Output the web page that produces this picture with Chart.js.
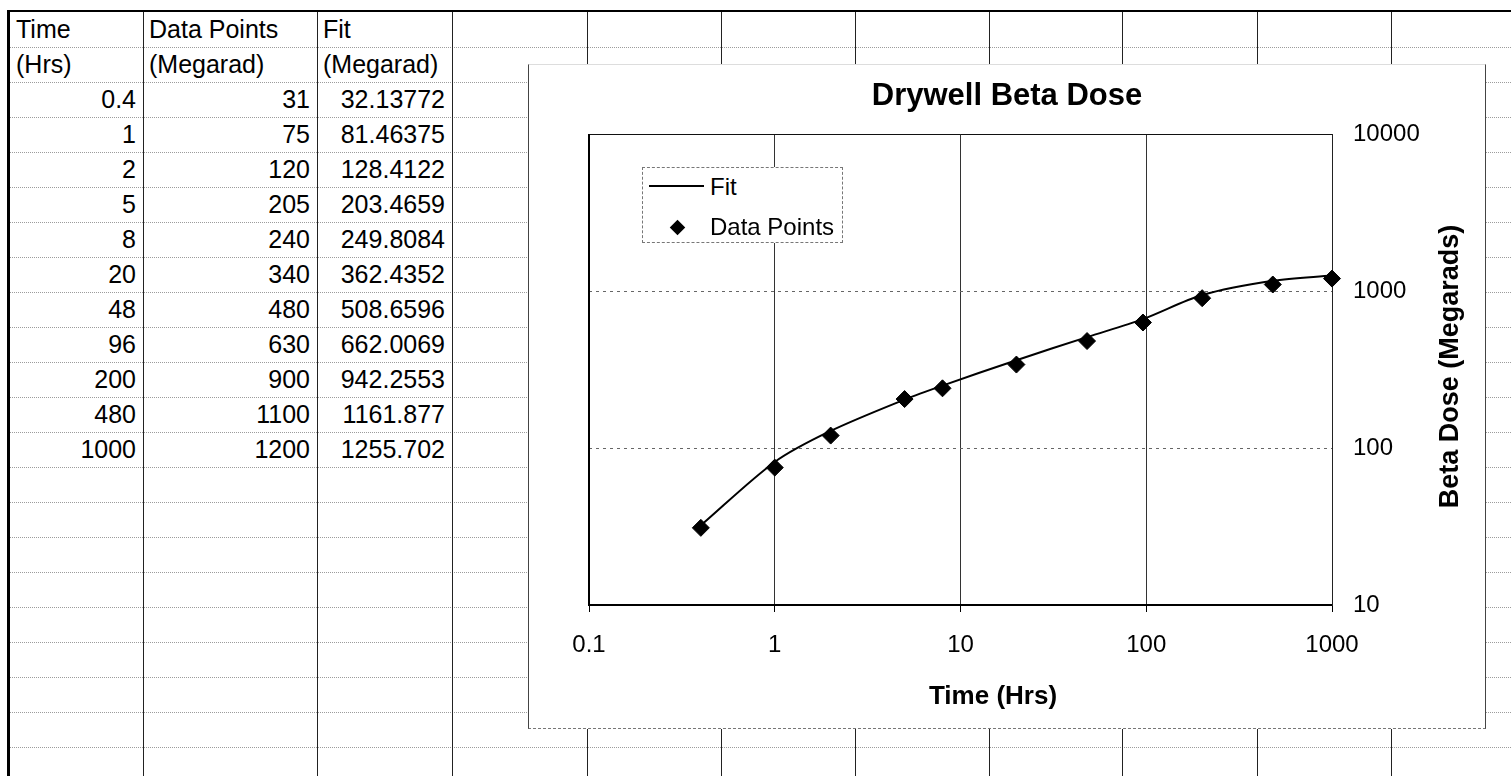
<!DOCTYPE html>
<html lang="en">
<head>
<meta charset="utf-8">
<title>Drywell Beta Dose</title>
<script src="https://cdn.jsdelivr.net/npm/chart.js@4.4.1/dist/chart.umd.min.js"></script>
<style>
  body { margin: 0; background: #fff; }
  #sheet { position: relative; width: 1511px; height: 776px; overflow: hidden; font-family: "Liberation Sans", Arial, sans-serif; color: #000; }
  .row-line { position: absolute; left: 10px; width: 1501px; height: 0; border-top: 1px dotted #9c9c9c; }
  .col-line { position: absolute; top: 12px; bottom: 0; width: 1px; background: #222; }
  #top-edge { position: absolute; left: 7px; top: 10px; width: 1504px; height: 2px; background: #000; }
  #left-edge { position: absolute; left: 7px; top: 10px; width: 3px; bottom: 0; background: #000; }
  .cell { position: absolute; height: 35px; line-height: 35px; font-size: 25px; white-space: nowrap; box-sizing: border-box; padding: 0 7px 0 6px; }
  .cell.num { text-align: right; }
  #chartBox { position: absolute; left: 528px; top: 64px; width: 958px; height: 665px; box-sizing: border-box; background: #fff;
    border-left: 1px solid #444; border-right: 1px solid #444; border-top: 1px solid #ddd; border-bottom: 1px dashed #777; }
  #chartWrap { position: relative; width: 956px; height: 663px; }
  #legend { position: absolute; width: 201px; height: 76px; box-sizing: border-box; border: 1px dashed #777; background: #fff; font-size: 24px; }
  .lg-item { position: absolute; left: 0; width: 100%; height: 40px; line-height: 40px; }
  .lg-text { position: absolute; left: 67px; top: 0; }
  .lg-line { position: absolute; left: 6px; top: 18px; width: 55px; height: 2px; background: #000; }
  .lg-diamond { position: absolute; left: 28.5px; top: 14.5px; width: 11px; height: 11px; background: #000; transform: rotate(45deg); }
</style>
</head>
<body>
<div id="sheet">
  <div id="chartBox">
    <div id="chartWrap">
      <canvas id="doseChart"></canvas>
      <div id="legend"></div>
    </div>
  </div>
  <div id="top-edge"></div>
  <div id="left-edge"></div>
</div>
<script>
// data read from the sheet
const timeHrs = [0.4, 1, 2, 5, 8, 20, 48, 96, 200, 480, 1000];
const dataPoints = [31, 75, 120, 205, 240, 340, 480, 630, 900, 1100, 1200];
const fitValues = [32.13772, 81.46375, 128.4122, 203.4659, 249.8084, 362.4352, 508.6596, 662.0069, 942.2553, 1161.877, 1255.702];

const headerTop = ['Time', 'Data Points', 'Fit'];
const headerUnits = ['(Hrs)', '(Megarad)', '(Megarad)'];

const xTicks = [0.1, 1, 10, 100, 1000];
const xTickLabels = ['0.1', '1', '10', '100', '1000'];
const yTicks = [10, 100, 1000, 10000];
const yTickLabels = ['10', '100', '1000', '10000'];

const chartTitle = 'Drywell Beta Dose';
const xAxisTitle = 'Time (Hrs)';
const yAxisTitle = 'Beta Dose (Megarads)';

// spreadsheet grid
const sheet = document.getElementById('sheet');
const chartBox = document.getElementById('chartBox');
const rowTop = 12;
const rowHeight = 35;
const tableCols = [{ left: 10, right: 143 }, { left: 143, right: 317 }, { left: 317, right: 452 }];
const colLines = [143, 317, 452, 587, 721, 855, 989, 1122, 1257, 1391];

const addDiv = (cls, css, text) => {
    const el = document.createElement('div');
    el.className = cls;
    Object.assign(el.style, css);
    if (text !== undefined) el.textContent = text;
    sheet.insertBefore(el, chartBox); // keep the chart on top
    return el;
}

for (let n = 1; n <= 21; n++) {
    addDiv('row-line', { top: (rowTop + rowHeight * n) + 'px' });
}
colLines.forEach(x => addDiv('col-line', { left: x + 'px' }));

// table text
const tableRows = [headerTop, headerUnits];
timeHrs.forEach((t, i) => tableRows.push([t, dataPoints[i], fitValues[i]]));

tableRows.forEach((row, r) => {
    row.forEach((value, c) => {
        const col = tableCols[c];
        addDiv(typeof value === 'number' ? 'cell num' : 'cell', {
            left: col.left + 'px',
            width: (col.right - col.left) + 'px',
            top: (rowTop + rowHeight * r) + 'px'
        }, String(value));
    });
});

// frame of the plot area and the two axis titles
const plotFrame = {
    id: 'plotFrame',
    beforeDatasetsDraw(chart) {
        const { ctx, chartArea: a } = chart;
        ctx.save();
        ctx.strokeStyle = '#111';
        ctx.lineWidth = 1;
        ctx.beginPath();
        ctx.moveTo(a.left, a.top + 0.5);
        ctx.lineTo(a.right, a.top + 0.5);
        ctx.stroke();
        ctx.strokeStyle = '#000';
        ctx.lineWidth = 2;
        ctx.beginPath();
        ctx.moveTo(a.left, a.top);
        ctx.lineTo(a.left, a.bottom + 1);
        ctx.stroke();
        ctx.restore();
    },
    afterDraw(chart) {
        const { ctx, chartArea: a } = chart;
        ctx.save();
        ctx.fillStyle = '#000';
        ctx.textAlign = 'center';
        ctx.textBaseline = 'middle';
        ctx.font = 'bold 26px "Liberation Sans", Arial, sans-serif';
        ctx.fillText(xAxisTitle, a.left + 404, a.bottom + 92);
        // y title reads bottom to top
        ctx.font = 'bold 27px "Liberation Sans", Arial, sans-serif';
        ctx.translate(a.right + 119, (a.top + a.bottom) / 2 - 3);
        ctx.rotate(-Math.PI / 2);
        ctx.fillText(yAxisTitle, 0, 0);
        ctx.restore();
    }
};

Chart.defaults.font.family = '"Liberation Sans", Arial, sans-serif';
Chart.defaults.color = '#000';

const chart = new Chart(document.getElementById('doseChart'), {
    type: 'scatter',
    data: {
        datasets: [{
            label: 'Fit',
            data: timeHrs.map((t, i) => ({ x: t, y: fitValues[i] })),
            showLine: true,
            borderColor: '#000',
            borderWidth: 2,
            pointRadius: 0,
            tension: 0.3,
            clip: false,
            order: 2
        }, {
            label: 'Data Points',
            data: timeHrs.map((t, i) => ({ x: t, y: dataPoints[i] })),
            showLine: false,
            pointStyle: 'rectRot',
            pointRadius: 8.5,
            backgroundColor: '#000',
            borderColor: '#000',
            borderWidth: 1,
            clip: false,
            order: 1
        }]
    },
    options: {
        responsive: true,
        maintainAspectRatio: false,
        animation: false,
        layout: { padding: { left: 60, right: 60, top: 0, bottom: 0 } },
        plugins: {
            legend: { display: false }, // html legend below
            tooltip: { enabled: false },
            title: {
                display: true,
                text: chartTitle,
                color: '#000',
                font: { size: 31, weight: 'bold' },
                padding: { top: 12.4, bottom: 19.4 }
            }
        },
        scales: {
            x: {
                type: 'logarithmic',
                position: 'bottom',
                min: 0.1,
                max: 1000,
                afterBuildTicks: (scale) => { scale.ticks = xTicks.map(v => ({ value: v })); },
                afterFit: (scale) => { scale.height = 123; },
                ticks: {
                    autoSkip: false,
                    maxRotation: 0,
                    padding: 18.6,
                    font: { size: 24 },
                    callback: (value, index) => xTickLabels[index]
                },
                grid: { color: '#333', lineWidth: 1, drawTicks: true, tickLength: 7, tickColor: '#000' },
                border: { display: true, color: '#000', width: 2 }
            },
            y: {
                type: 'logarithmic',
                position: 'right',
                min: 10,
                max: 10000,
                afterBuildTicks: (scale) => { scale.ticks = yTicks.map(v => ({ value: v })); },
                afterFit: (scale) => { scale.width = 93; },
                ticks: {
                    autoSkip: false,
                    padding: 21,
                    font: { size: 24 },
                    callback: (value, index) => yTickLabels[index]
                },
                grid: { color: '#666', lineWidth: 1, drawTicks: false },
                border: { display: true, color: '#222', width: 1, dash: [3, 4] } // dash applies to the grid lines
            }
        }
    },
    plugins: [plotFrame]
});

// html legend inside the plot, built from the datasets
const legend = document.getElementById('legend');
legend.style.left = (chart.chartArea.left + 53) + 'px';
legend.style.top = (chart.chartArea.top + 33) + 'px';
chart.data.datasets.forEach((ds, i) => {
    const item = document.createElement('div');
    item.className = 'lg-item';
    item.style.top = (-1 + 40 * i) + 'px';
    const mark = document.createElement('div');
    mark.className = ds.showLine ? 'lg-line' : 'lg-diamond';
    const label = document.createElement('span');
    label.className = 'lg-text';
    label.textContent = ds.label;
    item.appendChild(mark);
    item.appendChild(label);
    legend.appendChild(item);
});
</script>
</body>
</html>
